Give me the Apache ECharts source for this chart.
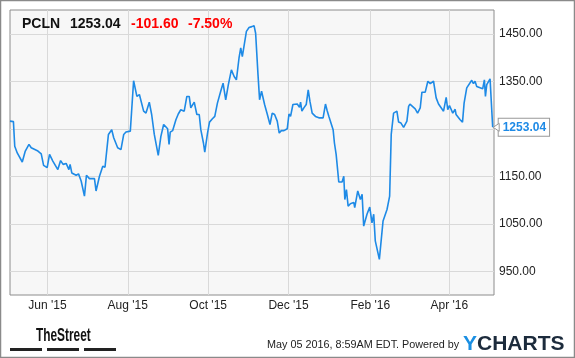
<!DOCTYPE html>
<html><head><meta charset="utf-8">
<script src="https://cdn.jsdelivr.net/npm/echarts@6/dist/echarts.min.js"></script>
<style>html,body{margin:0;padding:0;background:#fff}#c{width:575px;height:358px}</style>
</head><body><div id="c"></div>
<script>
const DAY = 86400000;
const startTs = Date.UTC(2015, 4, 3, 15);
const endTs = Date.UTC(2016, 4, 4, 22);

// day offsets from startTs and closing prices
const dayOffsets = [0,2.6,3.6,5.5,9.3,11.6,14.4,16.1,17.4,21.2,23.7,25.5,28.2,30.0,32.5,36.3,38.4,40.3,42.6,43.9,44.7,45.6,46.9,50.2,52.0,54.0,56.5,58.0,60.3,64.1,65.3,67.9,70.4,72.1,74.7,77.2,78.7,80.2,81.7,84.2,86.3,88.0,89.3,91.3,93.8,95.1,96.3,98.2,101.4,103.2,105.7,107.5,109.5,112.5,114.5,116.6,119.6,120.7,121.6,123.4,125.9,127.7,129.6,132.2,134.2,136.0,137.2,139.8,141.8,143.6,144.8,146.8,147.8,148.9,149.9,151.4,153.6,155.4,157.4,159.9,161.7,163.7,165.7,168.0,170.1,171.8,173.8,175.1,176.3,179.4,181.4,183.5,185.2,186.4,188.2,189.4,190.9,192.0,193.2,195.3,197.3,199.0,200.8,202.8,204.3,205.9,207.9,210.4,211.7,212.9,214.7,218.0,219.3,219.7,220.5,221.5,223.0,224.8,226.3,227.6,229.3,231.8,233.1,234.4,237.6,239.4,240.7,242.0,245.2,246.2,247.5,249.5,252.0,253.3,254.1,255.3,256.6,258.3,260.9,261.6,263.9,265.9,267.2,268.4,269.4,270.9,273.0,274.7,276.0,277.2,280.3,283.1,284.3,286.1,288.1,289.3,291.1,293.6,294.9,296.7,298.7,301.2,302.5,303.5,305.0,307.5,309.3,311.3,312.6,315.1,317.1,318.9,321.4,323.4,325.2,329.0,331.0,332.2,333.5,336.0,337.8,338.5,341.6,343.4,344.6,346.6,347.9,350.4,351.7,352.9,354.2,358.7,360.0,360.8,361.8,364.3,365.3,366.3];
const prices = [1266,1265,1213,1199,1180,1203,1217,1210,1213,1203,1197,1173,1168,1196,1182,1164,1183,1175,1177,1175,1164,1175,1157,1152,1155,1140,1108,1152,1145,1145,1119,1150,1171,1169,1238,1248,1231,1227,1210,1206,1238,1243,1241,1245,1351,1350,1318,1322,1287,1283,1306,1280,1238,1194,1234,1259,1250,1217,1243,1246,1269,1281,1290,1287,1318,1318,1294,1306,1280,1280,1248,1220,1201,1201,1241,1264,1271,1276,1304,1329,1346,1311,1343,1374,1360,1353,1399,1420,1402,1455,1463,1465,1467,1451,1364,1311,1329,1325,1301,1280,1259,1283,1280,1266,1241,1246,1246,1250,1281,1276,1301,1302,1304,1295,1306,1287,1294,1301,1332,1308,1283,1276,1278,1273,1273,1302,1288,1276,1248,1220,1196,1138,1138,1150,1101,1122,1087,1092,1095,1084,1119,1101,1112,1045,1045,1070,1085,1052,1070,1014,975,1056,1059,1080,1108,1238,1283,1287,1264,1262,1253,1266,1297,1302,1300,1292,1283,1294,1327,1327,1350,1345,1350,1315,1302,1287,1316,1290,1299,1283,1291,1280,1269,1264,1304,1336,1333,1352,1345,1350,1339,1334,1353,1318,1343,1355,1357,1253.04];

const tickDates = ['2015-06-01','2015-08-01','2015-10-01','2015-12-01','2016-02-01','2016-04-01'];
const tickLabels = ["Jun '15","Aug '15","Oct '15","Dec '15","Feb '16","Apr '16"];
const yTicks = [950,1050,1150,1250,1350,1450];

const symbolText = 'PCLN';
const lastText = '1253.04';
const changeText = '-101.60';
const pctText = '-7.50%';
const stampText = 'May 05 2016, 8:59AM EDT. Powered by';

const FONT = "'Liberation Sans', Arial, sans-serif";
const LINE = '#1e8ae6';

const tickDays = tickDates.map(s => { const p = s.split('-').map(Number); return (Date.UTC(p[0], p[1]-1, p[2]) - startTs) / DAY; });
const spanDays = (endTs - startTs) / DAY;
const seriesData = dayOffsets.map((d, i) => [d, prices[i]]);

const chart = echarts.init(document.getElementById('c'), null, {renderer: 'canvas'});
chart.setOption({
  animation: false,
  backgroundColor: '#fff',
  grid: {left: 10, right: 81, top: 10, bottom: 63, show: true, backgroundColor: '#f7f7f7', borderColor: '#8c8c8c', borderWidth: 1},
  xAxis: {
    type: 'value', min: 0, max: spanDays,
    axisLine: {show: false},
    axisTick: {show: false, customValues: tickDays},
    splitLine: {show: true, lineStyle: {color: '#d9d9d9', width: 1}},
    axisLabel: {
      customValues: tickDays, margin: 5, color: '#222', fontSize: 12, fontFamily: FONT,
      formatter: v => { let best = 0; tickDays.forEach((t, i) => { if (Math.abs(t - v) < Math.abs(tickDays[best] - v)) best = i; }); return tickLabels[best]; }
    }
  },
  yAxis: {
    type: 'value', position: 'right', min: 900, max: 1500,
    axisLine: {show: false},
    axisTick: {show: false, customValues: yTicks},
    splitLine: {show: true, lineStyle: {color: '#d9d9d9', width: 1}},
    axisLabel: {customValues: yTicks, margin: 5, color: '#222', fontSize: 12, fontFamily: FONT, formatter: v => Number(v).toFixed(2)}
  },
  series: [{
    type: 'line', data: seriesData, showSymbol: false, symbol: 'none',
    lineStyle: {color: LINE, width: 1.6}, itemStyle: {color: LINE},
    endLabel: {
      show: true, distance: 6,
      formatter: p => Number(p.value[1]).toFixed(2),
      color: LINE, fontWeight: 'bold', fontSize: 12, fontFamily: FONT,
      backgroundColor: '#fff', borderColor: '#999', borderWidth: 1, padding: [3, 3, 2, 4]
    }
  }]
});

const last = seriesData[seriesData.length - 1];
const lp = chart.convertToPixel({seriesIndex: 0}, last);

chart.setOption({graphic: [
  {type: 'rect', shape: {x: 0.5, y: 0.5, width: 574, height: 357}, style: {fill: 'none', stroke: '#8a8a8a', lineWidth: 1.5}, z: 100},
  {type: 'text', x: 22, y: 24, style: {text: symbolText, font: "bold 14px " + FONT, fill: '#111', textVerticalAlign: 'middle'}, z: 100},
  {type: 'text', x: 70, y: 24, style: {text: lastText, font: "bold 14px " + FONT, fill: '#111', textVerticalAlign: 'middle'}, z: 100},
  {type: 'text', x: 131, y: 24, style: {text: changeText, font: "bold 14px " + FONT, fill: '#ff0000', textVerticalAlign: 'middle'}, z: 100},
  {type: 'text', x: 188, y: 24, style: {text: pctText, font: "bold 14px " + FONT, fill: '#ff0000', textVerticalAlign: 'middle'}, z: 100},
  {type: 'polygon', shape: {points: [[lp[0] + 0.5, lp[1]], [lp[0] + 6.5, lp[1] - 4], [lp[0] + 6.5, lp[1] + 4]]}, style: {fill: '#fff', stroke: '#999', lineWidth: 1}, z: 100},
  {type: 'text', x: 36, y: 336, scaleX: 0.66, style: {text: 'TheStreet', font: "bold 18px 'Liberation Sans Narrow', 'Liberation Sans', Arial, sans-serif", fill: '#111', textVerticalAlign: 'middle'}, z: 100},
  {type: 'rect', shape: {x: 10, y: 348, width: 32, height: 3}, style: {fill: '#222'}, z: 100},
  {type: 'rect', shape: {x: 47, y: 348, width: 32, height: 3}, style: {fill: '#222'}, z: 100},
  {type: 'rect', shape: {x: 84, y: 348, width: 32, height: 3}, style: {fill: '#222'}, z: 100},
  {type: 'text', x: 267, y: 345, style: {text: stampText, font: "10.8px " + FONT, fill: '#222', textVerticalAlign: 'middle'}, z: 100},
  {type: 'text', x: 463, y: 344, style: {text: 'Y', font: "bold 21px " + FONT, fill: '#1a8fe3', textVerticalAlign: 'middle'}, z: 100},
  {type: 'text', x: 477, y: 344, style: {text: 'CHARTS', font: "bold 21px " + FONT, fill: '#1c2b3c', textVerticalAlign: 'middle'}, z: 100}
]});
</script></body></html>
